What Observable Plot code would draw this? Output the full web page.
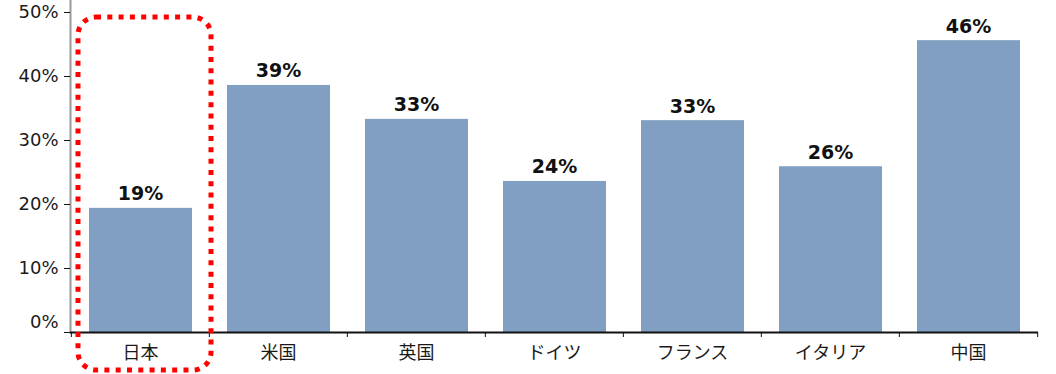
<!DOCTYPE html>
<html>
<head>
<meta charset="utf-8">
<script src="https://cdn.jsdelivr.net/npm/d3@7"></script>
<script src="https://cdn.jsdelivr.net/npm/@observablehq/plot@0.6"></script>
<style>
  html, body { margin: 0; padding: 0; background: #fff; }
</style>
</head>
<body>
<div id="chart"></div>
<script>
const categories = ["日本", "米国", "英国", "ドイツ", "フランス", "イタリア", "中国"];
const values = [19.4, 38.6, 33.3, 23.6, 33.1, 25.9, 45.6];
const yTicks = [10, 20, 30, 40, 50];
const yZeroTick = [0];
const highlighted = ["日本"];

const data = categories.map((c, i) => ({ country: c, value: values[i] }));

const W = 1056, H = 374;
const mL = 70, mR = 18, mT = 0, mB = 42;
const bw = (W - mL - mR) / categories.length;
const font = "'DejaVu Sans', Verdana, 'Noto Sans CJK JP', sans-serif";

const chart = Plot.plot({
  width: W,
  height: H,
  marginLeft: mL,
  marginRight: mR,
  marginTop: mT,
  marginBottom: mB,
  style: { fontFamily: font, fontSize: "18px", color: "#1a1a1a", background: "#fff" },
  x: { domain: categories, padding: 0, label: null },
  y: { domain: [0, 51.875], label: null },
  marks: [
    Plot.barY(data, { x: "country", y: "value", fill: "#819fc2", insetLeft: 18, insetRight: 17 }),
    Plot.frame({ anchor: "left", stroke: "#9a9a9a", strokeWidth: 2 }),
    Plot.ruleY([0], { stroke: "#111", strokeWidth: 2 }),
    Plot.axisY({ ticks: yTicks, tickFormat: d => d + "%", tickSize: 6, tickPadding: 6, stroke: "#111", fontSize: 18 }),
    Plot.axisY({ ticks: yZeroTick, tickFormat: () => null, tickSize: 6, stroke: "#111" }),
    Plot.axisY({ ticks: yZeroTick, tickFormat: d => d + "%", tickSize: 0, tickPadding: 12, dy: -10, fontSize: 18 }),
    Plot.axisX({ tickSize: 0, tickPadding: 14, fontSize: 18 }),
    Plot.axisX({ text: null, tickSize: 5, dx: -bw / 2, stroke: "#111" }),
    Plot.axisX({ ticks: [categories[categories.length - 1]], text: null, tickSize: 5, dx: bw / 2, stroke: "#111" }),
    Plot.text(data, { x: "country", y: "value", text: d => Math.round(d.value) + "%", dy: -8, lineAnchor: "bottom", fontWeight: "bold", fontSize: 19, fill: "#111" }),
    Plot.barY(highlighted.map(c => ({ country: c })), {
      x: "country", y1: -5.94, y2: 49.2,
      fill: "none", stroke: "#ff0000", strokeWidth: 5, strokeDasharray: "5 6.3",
      rx: 18, insetLeft: 7, insetRight: -2, clip: false
    })
  ]
});
document.getElementById("chart").appendChild(chart);
</script>
</body>
</html>
